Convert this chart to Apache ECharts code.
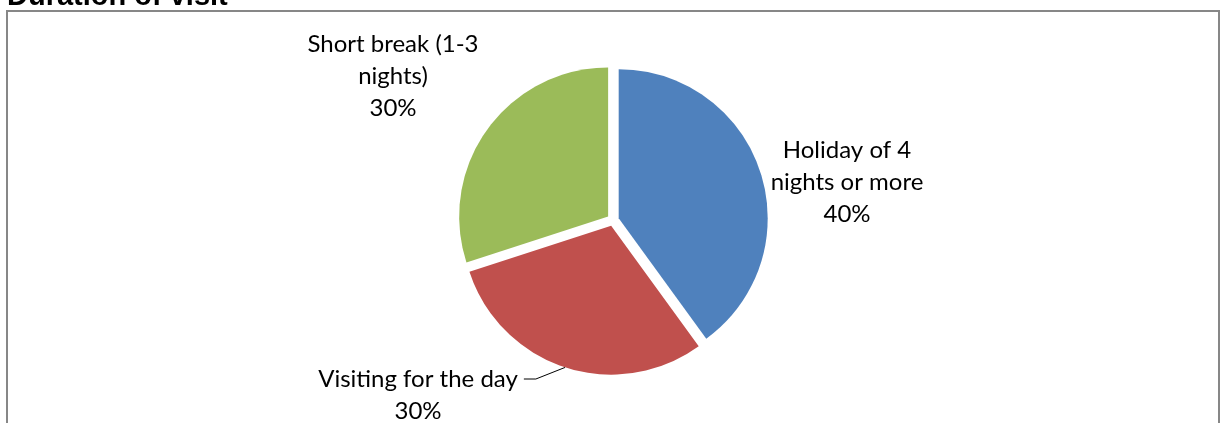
<!DOCTYPE html>
<html>
<head>
<meta charset="utf-8">
<script src="https://cdn.jsdelivr.net/npm/echarts@6/dist/echarts.min.js"></script>
<style>
  html, body { margin: 0; padding: 0; background: #fff; }
  #visit-duration-chart { width: 1227px; height: 423px; }
</style>
</head>
<body>
<div id="visit-duration-chart"></div>
<script>
// duration of visit, share of visitors (%)
const categories = ["Holiday of 4\nnights or more", "Visiting for the day", "Short break (1-3\nnights)"];
const shares = [40, 30, 30];
const colors = ["#4F81BD", "#C0504D", "#9BBB59"];

// where Excel left each data label (centre of the text block)
const labelSpots = [[847, 182], [418, 395], [393, 76]];

const pieCenter = [613, 220];
const pieRadius = 149;
const explode = 6; // every slice pulled out a little
const LINE_H = 32;

const chart = echarts.init(document.getElementById("visit-duration-chart"), null, { renderer: "canvas" });

// one pie per slice so each can be pushed out along its own mid angle
const total = shares.reduce((a, b) => a + b, 0);
let before = 0;
const series = shares.map((v, k) => {
  const mid = (before + v / 2) / total * 2 * Math.PI;
  before += v;
  return {
    type: "pie",
    center: [pieCenter[0] + explode * Math.sin(mid), pieCenter[1] - explode * Math.cos(mid)],
    radius: pieRadius,
    startAngle: 90,
    clockwise: true,
    emphasis: { disabled: true },
    label: {
      show: true,
      formatter: "{b}\n{c}%",
      fontFamily: "Lato, 'Open Sans', sans-serif",
      fontSize: 24,
      lineHeight: LINE_H,
      color: "#000",
      align: "center"
    },
    labelLine: {
      show: false,
      lineStyle: { color: "#000", width: 1 }
    },
    labelLayout: function (params) {
      const spot = labelSpots[params.dataIndex];
      const out = { x: spot[0], y: spot[1], align: "center", verticalAlign: "middle" };
      const pts = params.labelLinePoints;
      if (pts && pts.length) {
        // Excel style leader: short tick off the first line, then up to the slice
        const r = params.labelRect;
        const right = spot[0] + r.width / 2;
        const y1 = spot[1] - r.height / 2 + LINE_H / 2;
        out.labelLinePoints = [pts[0], [right + 18, y1], [right + 6, y1]];
      }
      return out;
    },
    data: categories.map((name, i) => ({
      name: name,
      value: shares[i],
      itemStyle: { color: i === k ? colors[i] : "rgba(0,0,0,0)" },
      label: { show: i === k },
      labelLine: { show: i === k && i === 1 }
    }))
  };
});

chart.setOption({
  animation: false,
  graphic: [
    {
      type: "text",
      left: 7,
      top: -18,
      style: {
        text: "Duration of visit",
        font: "bold 29px 'Liberation Sans', Arial, sans-serif",
        fill: "#000"
      }
    },
    {
      type: "rect",
      shape: { x: 7, y: 11, width: 1212, height: 440 },
      style: { fill: "none", stroke: "#878787", lineWidth: 2 },
      silent: true
    }
  ],
  series: series
});
</script>
</body>
</html>
